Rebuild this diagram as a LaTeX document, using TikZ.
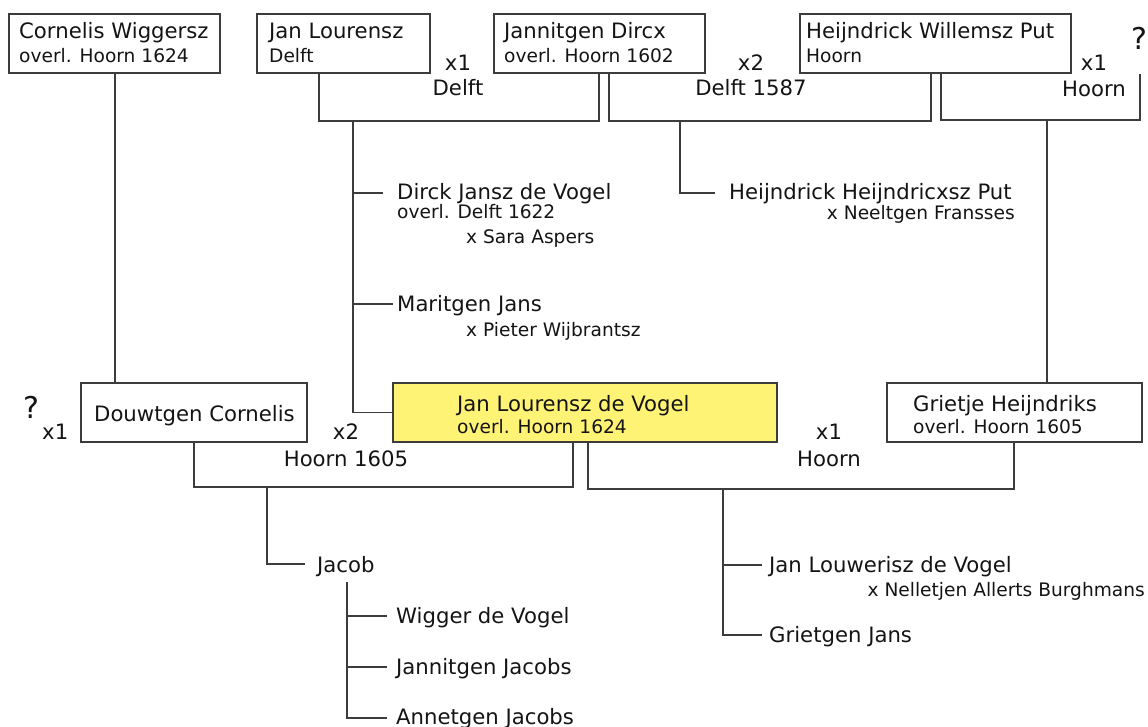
\documentclass[tikz,border=0pt]{standalone}
\usepackage{fontspec}
\setmainfont{DejaVu Sans}
\definecolor{lineg}{RGB}{60,60,60}
\definecolor{boxyellow}{RGB}{255,243,117}
\definecolor{txt}{RGB}{20,20,20}
\begin{document}
\begin{tikzpicture}[x=1pt,y=-1pt,
  pbox/.style={draw=lineg, line width=1.3pt, fill=white, inner sep=0pt, rectangle, minimum height=59pt},
  conn/.style={draw=lineg, line width=1.4pt},
  big/.style={inner sep=0pt, anchor=base west, text=txt, font=\fontsize{21.2}{25}\selectfont},
  small/.style={inner sep=0pt, anchor=base west, text=txt, font=\fontsize{18.6}{22}\selectfont},
  bigc/.style={big, anchor=base},
  smallr/.style={small, anchor=base east},
  qmark/.style={inner sep=0pt, anchor=base west, text=txt, font=\fontsize{30}{34}\selectfont}]
\clip (0,0) rectangle (1148,727);
\fill[white] (0,0) rectangle (1148,727);

% ---------- top row boxes
\node[pbox, minimum width=211pt] (cw) at (114.5,43.5) {};
\node[pbox, minimum width=173pt] (jl) at (343.5,43.5) {};
\node[pbox, minimum width=211pt] (jd) at (599.5,43.5) {};
\node[pbox, minimum width=271pt] (hw) at (935.5,43.5) {};
\node[big]   (cwt1) at (19,39) {Cornelis Wiggersz};
\node[small] (cwt2) at (19,63) {overl. Hoorn 1624};
\node[big]   (jlt1) at (269,39) {Jan Lourensz};
\node[small] (jlt2) at (269,63) {Delft};
\node[big]   (jdt1) at (504,39) {Jannitgen Dircx};
\node[small] (jdt2) at (504,63) {overl. Hoorn 1602};
\node[big]   (hwt1) at (806,39) {Heijndrick Willemsz Put};
\node[small] (hwt2) at (806,63) {Hoorn};
\node[qmark] (q1) at (1131,50) {?};

% marriage labels top
\node[bigc] (m1a) at (458,71) {x1};
\node[bigc] (m1b) at (458,96) {Delft};
\node[bigc] (m2a) at (751,71) {x2};
\node[bigc] (m2b) at (751,96) {Delft 1587};
\node[bigc] (m3a) at (1094,71) {x1};
\node[bigc] (m3b) at (1094,97) {Hoorn};

% ---------- bottom row boxes
\node[pbox, minimum width=226pt] (dc) at (194,412.5) {};
\node[pbox, minimum width=384pt, fill=boxyellow] (jv) at (585,412.5) {};
\node[pbox, minimum width=255pt] (gh) at (1014.5,412.5) {};
\node[big]   (dct) at (94,421) {Douwtgen Cornelis};
\node[big]   (jvt1) at (457,411) {Jan Lourensz de Vogel};
\node[small] (jvt2) at (457,433) {overl. Hoorn 1624};
\node[big]   (ght1) at (913,411) {Grietje Heijndriks};
\node[small] (ght2) at (913,433) {overl. Hoorn 1605};
\node[qmark] (q2) at (23,418) {?};
\node[big]   (q2x) at (42,439) {x1};

\node[bigc] (m4a) at (346,439) {x2};
\node[bigc] (m4b) at (346,466) {Hoorn 1605};
\node[bigc] (m5a) at (829,439) {x1};
\node[bigc] (m5b) at (829,466) {Hoorn};

% ---------- children texts
\node[big]   (dj)  at (397,200) {Dirck Jansz de Vogel};
\node[small] (dj2) at (397,219) {overl. Delft 1622};
\node[small] (dj3) at (466,244) {x Sara Aspers};
\node[big]   (mj)  at (397,311) {Maritgen Jans};
\node[small] (mj2) at (466,336) {x Pieter Wijbrantsz};
\node[big]   (hh)  at (729,200) {Heijndrick Heijndricxsz Put};
\node[smallr] (hh2) at (1015,220) {x Neeltgen Fransses};
\node[big]   (ja)  at (317,572) {Jacob};
\node[big]   (wv)  at (396,623) {Wigger de Vogel};
\node[big]   (jj)  at (396,674) {Jannitgen Jacobs};
\node[big]   (aj)  at (396,724) {Annetgen Jacobs};
\node[big]   (lv)  at (769,572) {Jan Louwerisz de Vogel};
\node[smallr] (lv2) at (1145,596) {x Nelletjen Allerts Burghmans};
\node[big]   (gj)  at (769,642) {Grietgen Jans};

% ---------- connectors
\coordinate (f1) at (353,121);
\coordinate (f2) at (680,121);
\coordinate (f3) at (1047,120);
\coordinate (f4) at (267,487);
\coordinate (f5) at (723,489);
\coordinate (qtop) at (1140,74);
\coordinate (jtop) at (347,582);

\draw[conn] ([xshift=0.5pt]cw.south) -- ([xshift=0.5pt]cw.south |- dc.north);
\draw[conn] ([xshift=-24.5pt]jl.south) |- (f1) -| ([xshift=-0.5pt]jd.south);
\draw[conn] ([xshift=9.5pt]jd.south) |- (f2) -| ([xshift=-4.5pt]hw.south);
\draw[conn] ([xshift=5.5pt]hw.south) |- (f3) -| (qtop);
\draw[conn] (f1) |- (jv.west);
\draw[conn] (f1 |- 0,193) -- (383,193);
\draw[conn] (f1 |- 0,304) -- (393,304);
\draw[conn] (f2) |- (715,193);
\draw[conn] (f3) -- (f3 |- gh.north);

\draw[conn] (dc.south) |- (f4) -| ([xshift=-12pt]jv.south);
\draw[conn] ([xshift=3pt]jv.south) |- (f5) -| ([xshift=-0.5pt]gh.south);
\draw[conn] (f4) |- (305,564);
\draw[conn] (jtop) |- (387,718);
\draw[conn] (jtop |- 0,616) -- (387,616);
\draw[conn] (jtop |- 0,667) -- (387,667);
\draw[conn] (f5) |- (762,635);
\draw[conn] (f5 |- 0,565) -- (762,565);
\end{tikzpicture}
\end{document}
